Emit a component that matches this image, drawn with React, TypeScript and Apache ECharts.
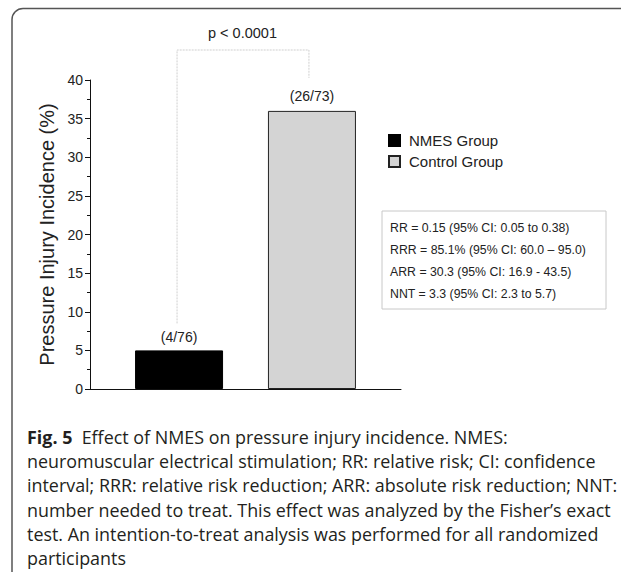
import React, { useEffect, useRef } from "react";
import * as echarts from "echarts";

const groups = ["NMES Group", "Control Group"];
const incidence = [5, 36];
const counts = ["(4/76)", "(26/73)"];
const yTicks = { min: 0, max: 40, interval: 5 };
const pValueText = "p < 0.0001";
const statsLines = [
  "RR = 0.15 (95% CI: 0.05 to 0.38)",
  "RRR = 85.1% (95% CI: 60.0 \u2013 95.0)",
  "ARR = 30.3 (95% CI: 16.9 - 43.5)",
  "NNT = 3.3 (95% CI: 2.3 to 5.7)",
];
const captionBold = "Fig. 5";
const captionLines = [
  "Effect of NMES on pressure injury incidence. NMES:",
  "neuromuscular electrical stimulation; RR: relative risk; CI: confidence",
  "interval; RRR: relative risk reduction; ARR: absolute risk reduction; NNT:",
  "number needed to treat. This effect was analyzed by the Fisher\u2019s exact",
  "test. An intention-to-treat analysis was performed for all randomized",
  "participants",
];

export default function App() {
  const ref = useRef<HTMLDivElement>(null);
  useEffect(() => {
    document.body.style.margin = "0";
    const chart = echarts.init(ref.current!, null, { renderer: "svg" });
    const gridLeft = 90;
    const gridTop = 80;
    const gridW = 311;
    const gridH = 309;
    const barW = 88;
    const gapPct = 51;
    const cx = gridLeft + gridW / 2;
    const off = (barW + (barW * gapPct) / 100) / 2;
    const leftX = cx - off;
    const rightX = cx + off;
    const yPix = (v: number) => gridTop + gridH - (v / yTicks.max) * gridH;
    const font = "Liberation Sans, Arial, sans-serif";
    const capFont = "Open Sans, Noto Sans, sans-serif";
    const capSize = 17.9;
    const capTop = 437;
    const capStep = 24.2;

    const graphic: any[] = [
      {
        type: "rect",
        shape: { x: 12, y: 8.5, width: 660, height: 600, r: 11 },
        style: { fill: "none", stroke: "#555", lineWidth: 1.5 },
        silent: true,
      },
      {
        type: "polyline",
        shape: {
          points: [
            [leftX - 2, yPix(incidence[0]) - 27],
            [leftX - 2, 50],
            [rightX - 3, 50],
            [rightX - 3, yPix(incidence[1]) - 33],
          ],
        },
        style: { stroke: "#cfcfcf", lineWidth: 1, lineDash: [2, 1], fill: "none" },
      },
      {
        type: "text",
        x: (leftX + rightX) / 2 - 3,
        y: 33,
        style: {
          text: pValueText,
          font: `14.5px ${font}`,
          fill: "#222",
          align: "center",
          verticalAlign: "middle",
        },
      },
      {
        type: "rect",
        shape: { x: 382, y: 211, width: 224, height: 98 },
        style: { fill: "#fff", stroke: "#c8c8c8", lineWidth: 1 },
      },
      ...statsLines.map((t, i) => ({
        type: "text",
        x: 390,
        y: 228 + i * 22,
        style: {
          text: t,
          font: `12.3px ${font}`,
          fill: "#222",
          verticalAlign: "middle",
        },
      })),
      ...captionLines.map((t, i) => ({
        type: "text",
        x: 27,
        y: capTop + i * capStep,
        style: {
          text: i === 0 ? `{b|${captionBold}}  ${t}` : t,
          font: `${capSize}px ${capFont}`,
          fill: "#231f20",
          verticalAlign: "middle",
          rich: {
            b: {
              fontWeight: "bold",
              fontSize: capSize,
              fontFamily: capFont,
              fill: "#231f20",
            },
          },
        },
      })),
    ];

    chart.setOption({
      animation: false,
      textStyle: { fontFamily: font },
      grid: { left: gridLeft, top: gridTop, width: gridW, height: gridH, containLabel: false },
      legend: {
        orient: "vertical",
        left: 388,
        top: 133,
        padding: 0,
        itemWidth: 11,
        itemHeight: 11,
        itemGap: 6,
        icon: "rect",
        textStyle: { fontSize: 15, color: "#222", fontFamily: font, padding: [0, 0, 0, 4] },
        data: groups,
      },
      xAxis: {
        type: "category",
        data: [""],
        axisLine: { lineStyle: { color: "#111", width: 1 } },
        axisTick: { alignWithLabel: true, length: 5, lineStyle: { color: "#111" } },
        axisLabel: { show: false },
        splitLine: { show: false },
      },
      yAxis: {
        type: "value",
        min: yTicks.min,
        max: yTicks.max,
        interval: yTicks.interval,
        name: "Pressure Injury Incidence (%)",
        nameLocation: "middle",
        nameGap: 33,
        nameTextStyle: { fontSize: 20, color: "#222", fontFamily: font },
        axisLine: { show: true, lineStyle: { color: "#111", width: 1 } },
        axisTick: { show: true, length: 5, lineStyle: { color: "#111" } },
        minorTick: { show: true, splitNumber: 2, length: 3, lineStyle: { color: "#111" } },
        axisLabel: { fontSize: 14, color: "#222", margin: 7, fontFamily: font },
        splitLine: { show: false },
      },
      series: groups.map((g, i) => ({
        name: g,
        type: "bar",
        data: [incidence[i]],
        barWidth: barW,
        barGap: `${gapPct}%`,
        itemStyle:
          i === 0
            ? { color: "#000", borderColor: "#000", borderWidth: 1 }
            : { color: "#d4d4d4", borderColor: "#222", borderWidth: 1 },
        label: {
          show: true,
          position: "top",
          distance: i === 0 ? 6 : 8,
          formatter: () => counts[i],
          fontSize: 14,
          color: "#222",
          fontFamily: font,
        },
      })),
      graphic,
    });
    return () => chart.dispose();
  }, []);
  return <div ref={ref} style={{ width: 621, height: 572, position: "absolute", left: 0, top: 0 }} />;
}
